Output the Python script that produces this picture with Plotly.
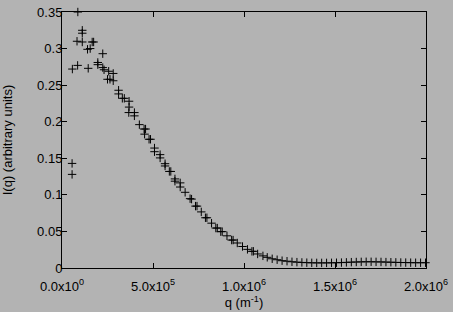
import plotly.graph_objects as go

# Scattering data (q in m^-1, intensity in arbitrary units)
q_values = [
    55400, 55400, 57000, 82600, 85900, 87000, 111400, 111400, 111400,
    140200, 144000, 154900, 165800, 173900, 196700, 196700, 223900, 223900,
    231000, 256500, 250000, 263600, 281500, 281500, 310900, 310900, 331500,
    342400, 368500, 368500, 367000, 397800, 397800, 425000, 451000, 459200,
    453800, 478300, 486400, 508200, 508200, 539100, 539100, 566300, 566300,
    589700, 597800, 620600, 620600, 649500, 649500, 676600, 703800, 712000,
    733700, 741800, 765200, 788100, 796200, 821700, 845100, 853300, 872300,
    880400, 906500, 932100, 940200, 963100, 991800, 1019000, 1043500, 1051600,
    1075000, 1104000,
    1127700, 1154900, 1182100, 1209300, 1236400, 1263600, 1290800, 1318000,
    1345100, 1372300, 1399500, 1426700, 1453800, 1481000, 1508200, 1535400,
    1562500, 1589700, 1616900, 1644100, 1671200, 1698400, 1725600, 1752800,
    1779900, 1807100, 1834300, 1861500, 1888600, 1915800, 1943000, 1970200,
    1997300,
]
intensity = [
    0.143, 0.128, 0.272, 0.310, 0.277, 0.350, 0.325, 0.321, 0.309,
    0.299, 0.273, 0.300, 0.309, 0.309, 0.281, 0.278, 0.293, 0.274,
    0.271, 0.269, 0.258, 0.258, 0.266, 0.256, 0.243, 0.238, 0.232,
    0.232, 0.228, 0.220, 0.2125, 0.2125, 0.208, 0.196, 0.190, 0.190,
    0.183, 0.176, 0.176, 0.164, 0.159, 0.155, 0.1505, 0.1426, 0.1395,
    0.132, 0.132, 0.1218, 0.1187, 0.1164, 0.1107, 0.1035, 0.0948, 0.0942,
    0.0846, 0.0846, 0.0767, 0.0687, 0.0687, 0.0613, 0.0546, 0.0546, 0.0497,
    0.0497, 0.0440, 0.0382, 0.0382, 0.0342, 0.0294, 0.0255, 0.0228, 0.0228,
    0.0192, 0.0166,
    0.0146, 0.0126, 0.0113, 0.0100, 0.0093, 0.0085, 0.0080, 0.0076,
    0.0073, 0.0071, 0.0070, 0.0070, 0.0070, 0.0071, 0.0072, 0.0074,
    0.0077, 0.0080, 0.0082, 0.0084, 0.0085, 0.0085, 0.0084, 0.0083,
    0.0081, 0.0079, 0.0077, 0.0075, 0.0074, 0.0073, 0.0072, 0.0072,
    0.0072,
]

x_tick_vals = [0, 500000, 1000000, 1500000, 2000000]
x_tick_text = ["0.0x10<sup>0</sup>", "5.0x10<sup>5</sup>", "1.0x10<sup>6</sup>",
               "1.5x10<sup>6</sup>", "2.0x10<sup>6</sup>"]
y_tick_vals = [0, 0.05, 0.1, 0.15, 0.2, 0.25, 0.3, 0.35]
y_tick_text = ["0", "0.05", "0.1", "0.15", "0.2", "0.25", "0.3", "0.35"]

bg = "#b3b3b3"
font = dict(family="Liberation Sans, Arial, sans-serif", size=13, color="black")

fig = go.Figure(
    go.Scatter(
        x=q_values, y=intensity, mode="markers", cliponaxis=False,
        marker=dict(symbol="cross-thin", size=6, color="black",
                    line=dict(color="black", width=1)),
        showlegend=False,
    )
)

axis_common = dict(
    showline=True, linecolor="black", linewidth=1, mirror="ticks",
    ticks="inside", ticklen=5, tickcolor="black", tickwidth=1,
    showgrid=False, zeroline=False, tickfont=font, ticklabeloverflow="allow",
)

fig.update_xaxes(range=[0, 2000000], tickvals=x_tick_vals, ticktext=x_tick_text,
                 ticklabelstandoff=6,
                 title=dict(text="q (m<sup>-1</sup>)", font=font, standoff=2),
                 **axis_common)
fig.update_yaxes(range=[0, 0.35], tickvals=y_tick_vals, ticktext=y_tick_text,
                 ticklabelstandoff=-4,
                 title=dict(text="I(q) (arbitrary units)", font=font, standoff=22),
                 **axis_common)

fig.update_layout(
    width=453, height=312,
    margin=dict(l=61.5, r=23, t=4.5, b=43.5),
    paper_bgcolor=bg, plot_bgcolor=bg,
    font=font,
)

fig.write_html("out.html")
